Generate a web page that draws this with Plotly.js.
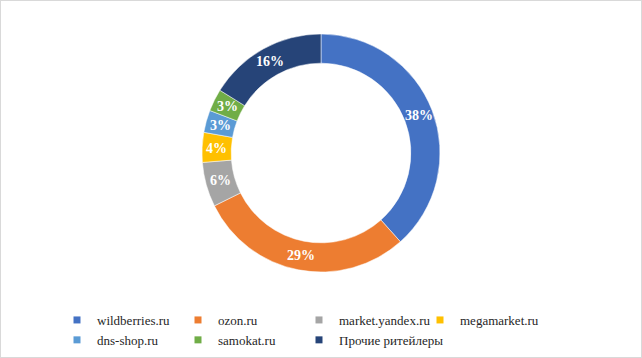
<!DOCTYPE html>
<html><head><meta charset="utf-8">
<script src="https://cdn.plot.ly/plotly-3.0.1.min.js"></script>
<style>html,body{margin:0;padding:0;background:#fff;}#c{width:640px;height:356px;border:1px solid #d9d9d9;}</style>
</head><body><div id="c"></div>
<script>
const categories = ["wildberries.ru","ozon.ru","market.yandex.ru","megamarket.ru","dns-shop.ru","samokat.ru","Прочие ритейлеры"];
const shares = [38,29,6,4,3,3,16];
const colors = ["#4472c4","#ed7d31","#a5a5a5","#ffc000","#5b9bd5","#70ad47","#264478"];

const W = 640, H = 356;
const ML = 0, MR = 100, MT = 0, MB = 30;
const PW = W - ML - MR, PH = H - MT - MB;
const FONT = '"Times New Roman", "Liberation Serif", serif';
const cx = 320, cy = 152, R = 119, HOLE = 0.755;
const data = [{
  type: 'pie',
  labels: categories,
  values: shares,
  sort: false,
  direction: 'clockwise',
  rotation: 0,
  hole: HOLE,
  showlegend: false,
  marker: {colors: colors, line: {color: '#ffffff', width: 0.5}},
  textinfo: 'none',
  hoverinfo: 'label+value',
  domain: {x: [(cx - R) / PW, (cx + R) / PW], y: [(PH - (cy + R)) / PH, (PH - (cy - R)) / PH]}
}];
// legend keys (empty traces so the legend can use small square keys)
categories.forEach((name, i) => {
  data.push({
    type: 'scatter', mode: 'markers', x: [null], y: [null], name: name,
    marker: {symbol: 'square', size: 7, color: colors[i]},
    hoverinfo: 'skip', showlegend: true
  });
});
// data labels at the middle angle of each slice, centred in the ring
const total = shares.reduce((a, b) => a + b, 0);
const rMid = R * (1 + HOLE) / 2;
let cum = 0;
const annotations = shares.map((v) => {
  const a = (cum + v / 2) / total * 2 * Math.PI;
  cum += v;
  const px = cx + rMid * Math.sin(a), py = cy - rMid * Math.cos(a);
  return {
    xref: 'paper', yref: 'paper', x: px / PW, y: (PH - py) / PH,
    xanchor: 'center', yanchor: 'middle', showarrow: false,
    text: v + '%',
    font: {family: FONT, size: 14, color: '#ffffff', weight: 'bold'}
  };
});
const layout = {
  width: W, height: H,
  margin: {l: ML, r: MR, t: MT, b: MB},
  paper_bgcolor: '#ffffff',
  plot_bgcolor: 'rgba(0,0,0,0)',
  font: {family: FONT},
  annotations: annotations,
  xaxis: {visible: false, showgrid: false, zeroline: false},
  yaxis: {visible: false, showgrid: false, zeroline: false},
  showlegend: true,
  legend: {
    orientation: 'h', x: 56 / PW, xanchor: 'left',
    y: (PH - 304) / PH, yanchor: 'top',
    entrywidth: 76, entrywidthmode: 'pixels', traceorder: 'normal',
    font: {family: FONT, size: 13, color: '#262626'},
    itemwidth: 30
  }
};
Plotly.newPlot('c', data, layout, {displayModeBar: false, staticPlot: true});
</script></body></html>
